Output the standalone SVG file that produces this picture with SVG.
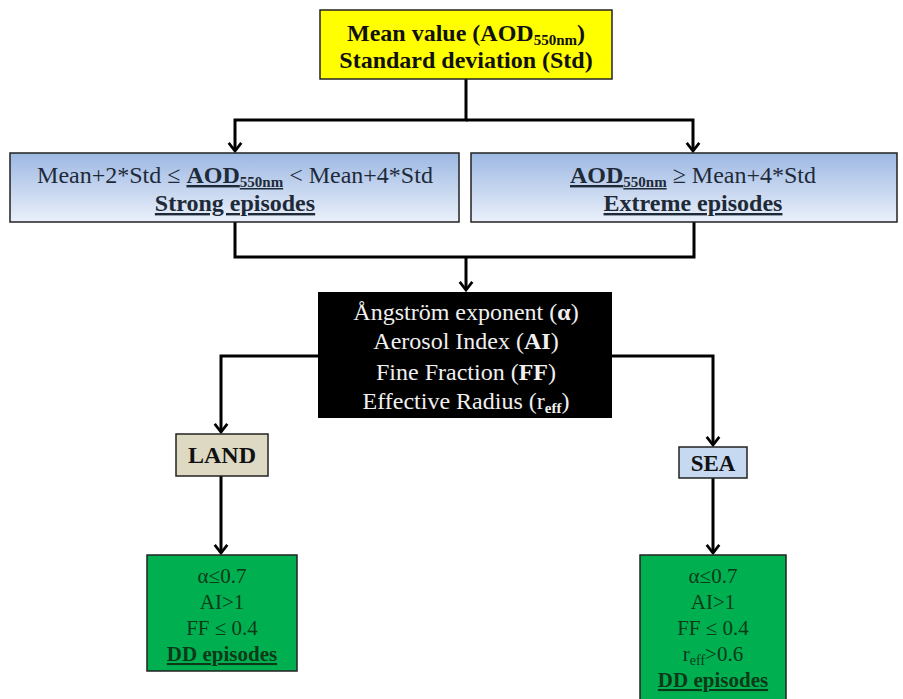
<svg xmlns="http://www.w3.org/2000/svg" width="903" height="699" viewBox="0 0 903 699">
<defs>
<linearGradient id="blueGrad" x1="0" y1="0" x2="0" y2="1">
<stop offset="0" stop-color="#9db8e3"/>
<stop offset="1" stop-color="#eaf0fa"/>
</linearGradient>
<marker id="arr" markerUnits="userSpaceOnUse" markerWidth="18" markerHeight="18" viewBox="-10 -10 20 20" refX="0" refY="0" orient="auto">
<path d="M-9,-7 L0,0 L-9,7" fill="none" stroke="#000" stroke-width="3" stroke-linejoin="miter"/>
</marker>
<style>
.box{stroke:#222;stroke-width:1.5}
.conn{fill:none;stroke:#000;stroke-width:3}
text{font-family:"Liberation Serif","DejaVu Serif",serif;text-anchor:middle}
.b{font-weight:bold}
.u{text-decoration:underline}
.dark{fill:#1e2a38}
.white{fill:#f0f0f0}
.green{fill:#0c3a18}
</style>
</defs>
<rect width="903" height="699" fill="#fff"/>

<g id="connectors">
<path class="conn" d="M466,79 V120 H235 V151" marker-end="url(#arr)"/>
<path class="conn" d="M466,120 H693 V151" marker-end="url(#arr)"/>
<path class="conn" d="M235,222 V257 H694 V222"/>
<path class="conn" d="M466,257 V290" marker-end="url(#arr)"/>
<path class="conn" d="M318,356 H221 V432" marker-end="url(#arr)"/>
<path class="conn" d="M612,356 H713 V445" marker-end="url(#arr)"/>
<path class="conn" d="M221,476 V553" marker-end="url(#arr)"/>
<path class="conn" d="M713,478 V553" marker-end="url(#arr)"/>
</g>

<g id="mean">
<rect class="box" x="320" y="10" width="292" height="69" fill="#ffff00"/>
<text class="b" x="466" y="41" font-size="24" fill="#111">Mean value (AOD<tspan font-size="15" dy="4">550nm</tspan><tspan dy="-4">)</tspan></text>
<text class="b" x="466" y="68" font-size="24" fill="#111">Standard deviation (Std)</text>
</g>

<g id="strong">
<rect class="box" x="10" y="153" width="449" height="69" fill="url(#blueGrad)"/>
<text class="dark" x="235" y="183" font-size="24">Mean+2*Std ≤ <tspan class="b u">AOD<tspan font-size="15" dy="4">550nm</tspan></tspan><tspan dy="-4"> &lt; Mean+4*Std</tspan></text>
<text class="dark b u" x="235" y="211" font-size="24">Strong episodes</text>
</g>

<g id="extreme">
<rect class="box" x="471" y="153" width="426" height="69" fill="url(#blueGrad)"/>
<text class="dark" x="693" y="183" font-size="24"><tspan class="b u">AOD<tspan font-size="15" dy="4">550nm</tspan></tspan><tspan dy="-4"> ≥ Mean+4*Std</tspan></text>
<text class="dark b u" x="693" y="211" font-size="24">Extreme episodes</text>
</g>

<g id="params">
<rect x="318" y="292" width="294" height="126" fill="#000"/>
<text class="white" x="466" y="320" font-size="24">Ångström exponent (<tspan class="b">α</tspan>)</text>
<text class="white" x="466" y="349" font-size="24">Aerosol Index (<tspan class="b">AI</tspan>)</text>
<text class="white" x="466" y="380" font-size="24">Fine Fraction (<tspan class="b">FF</tspan>)</text>
<text class="white" x="466" y="409" font-size="24">Effective Radius (r<tspan class="b" font-size="15" dy="4">eff</tspan><tspan dy="-4">)</tspan></text>
</g>

<g id="land">
<rect class="box" x="176" y="434" width="92" height="42" fill="#ddd9c3"/>
<text class="b" x="222" y="463" font-size="24" fill="#111">LAND</text>
</g>

<g id="sea">
<rect class="box" x="679" y="447" width="68" height="31" fill="#c6d9f1"/>
<text class="b" x="713" y="471" font-size="23" fill="#111">SEA</text>
</g>

<g id="dd-land">
<rect class="box" x="147" y="555" width="150" height="116" fill="#00b050"/>
<text class="green" x="222" y="583" font-size="21">α≤0.7</text>
<text class="green" x="222" y="609" font-size="21">AI&gt;1</text>
<text class="green" x="222" y="635" font-size="21">FF ≤ 0.4</text>
<text class="green b u" x="222" y="661" font-size="21">DD episodes</text>
</g>

<g id="dd-sea">
<rect class="box" x="640" y="555" width="146" height="150" fill="#00b050"/>
<text class="green" x="713" y="583" font-size="21">α≤0.7</text>
<text class="green" x="713" y="609" font-size="21">AI&gt;1</text>
<text class="green" x="713" y="635" font-size="21">FF ≤ 0.4</text>
<text class="green" x="713" y="661" font-size="21">r<tspan font-size="14" dy="4">eff</tspan><tspan dy="-4">&gt;0.6</tspan></text>
<text class="green b u" x="713" y="687" font-size="21">DD episodes</text>
</g>
</svg>
